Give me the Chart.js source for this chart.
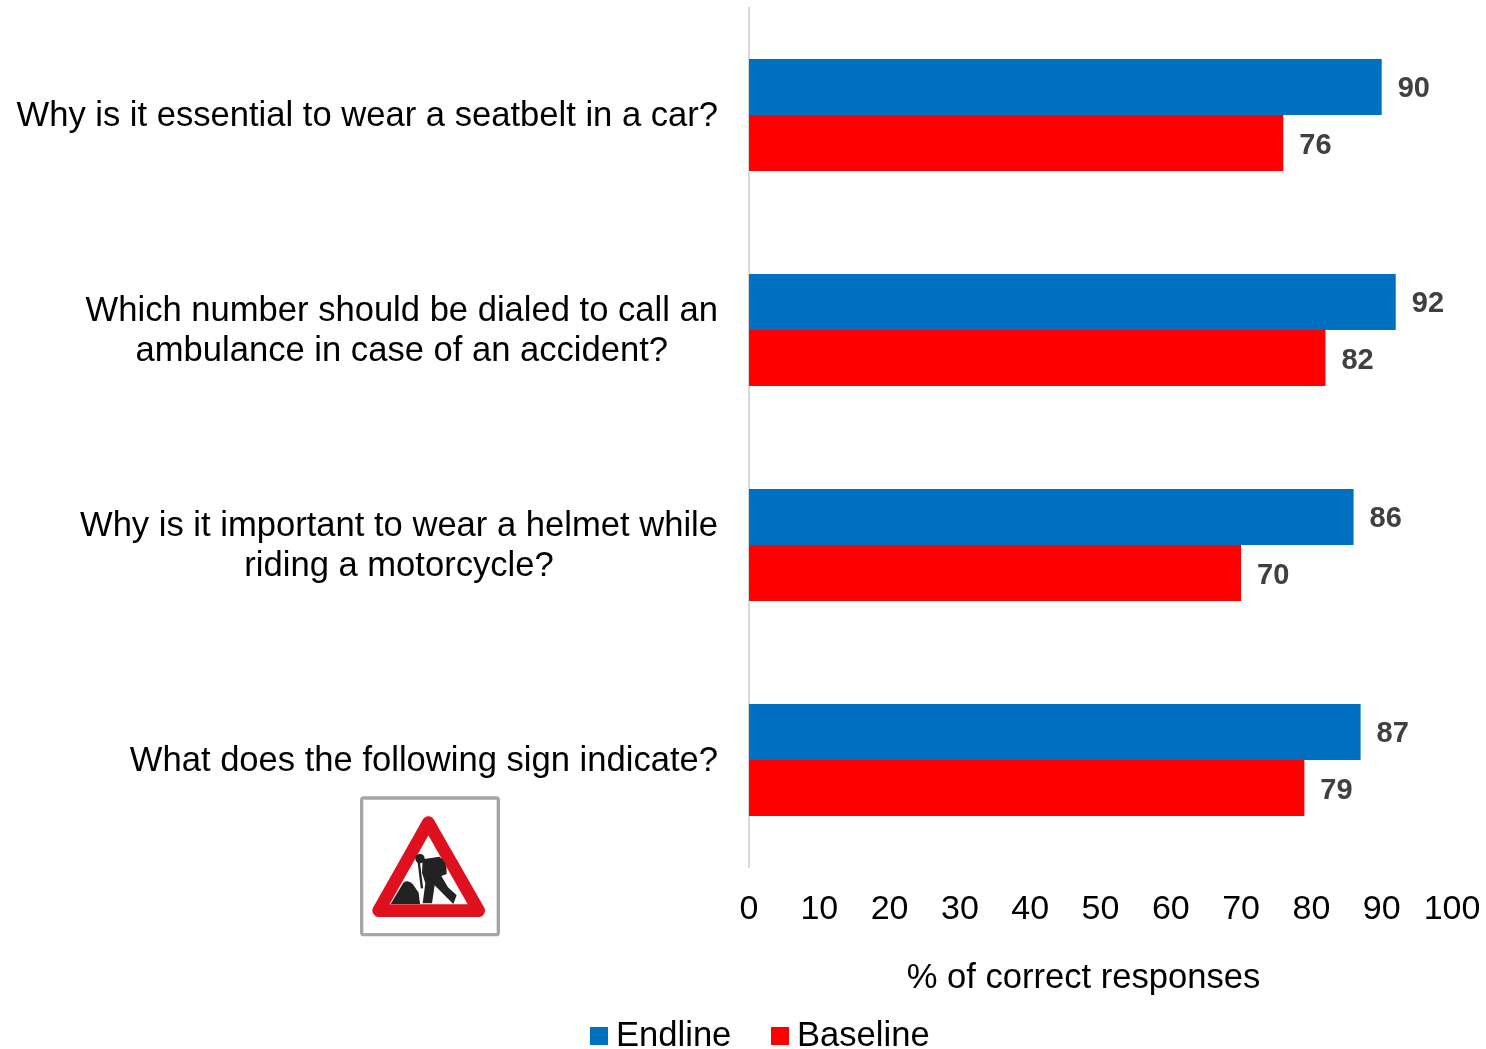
<!DOCTYPE html>
<html>

<head>
    <title>Correct responses</title>
    <meta http-equiv="Content-type" content="text/html; charset=utf-8">
    <script src="https://cdn.jsdelivr.net/npm/chart.js@4/dist/chart.umd.min.js"></script>
    <style>
        html, body { margin: 0; padding: 0; background: #fff; overflow: hidden; }
        #wrap { position: relative; width: 1486px; height: 1049px; }
        #chart { position: absolute; left: 0; top: 0; }
        #sign { position: absolute; left: 340px; top: 780px; filter: blur(0.7px); }
        .legend { position: absolute; top: 1014px; height: 40px; font: 34.6px "Liberation Sans", Arial, sans-serif; color: #000; }
        .legend i { position: absolute; left: 0; top: 13px; width: 18px; height: 18px; }
        .legend span { position: absolute; left: 26px; top: 0; line-height: 40px; white-space: nowrap; }
    </style>
</head>

<body>
    <div id="wrap">
        <canvas id="chart" width="1486" height="1049"></canvas>

        <!-- road works sign -->
        <svg id="sign" width="180" height="170" viewBox="0 0 540 510">
            <rect x="65" y="54" width="410" height="410" rx="6" fill="#fff" stroke="#a6a6a6" stroke-width="10" />
            <path d="M265 128 L116 392 L416 392 Z" fill="#fff" stroke="#e0111f" stroke-width="38" stroke-linejoin="round" />
            <path d="M152 372 L190 308 Q204 298 218 312 L236 338 L240 372 Z" fill="#222" />
            <circle cx="240" cy="236" r="14" fill="#222" />
            <path d="M248 238 L298 230 Q322 242 320 282 L304 288 L324 322 L350 346 L340 372 L312 344 L284 316 L276 370 L248 370 L256 310 L246 278 Z" fill="#222" />
            <path d="M236 245 L246 325" stroke="#222" stroke-width="7" fill="none" />
        </svg>

        <div class="legend" style="left:590px"><i style="background:#0070c0"></i><span>Endline</span></div>
        <div class="legend" style="left:771px"><i style="background:#ff0000"></i><span>Baseline</span></div>
    </div>

    <script>
        var categories = [
            ["Why is it essential to wear a seatbelt in a car?"],
            ["Which number should be dialed to call an", "ambulance in case of an accident?"],
            ["Why is it important to wear a helmet while", "riding a motorcycle?"],
            ["What does the following sign indicate?"]
        ];
        var endline = [90, 92, 86, 87];
        var baseline = [76, 82, 70, 79];
        var xAxisTitle = "% of correct responses";

        var fontName = '"Liberation Sans", Arial, sans-serif';

        // question labels, centred per block and right aligned to the axis
        var questionLabels = {
            id: 'questionLabels',
            afterDraw: function(chart) {
                var ctx = chart.ctx;
                var yScale = chart.scales.y;
                var rightEdge = 718;
                ctx.save();
                ctx.font = '34.6px ' + fontName;
                ctx.fillStyle = '#000';
                ctx.textBaseline = 'middle';
                ctx.textAlign = 'center';
                categories.forEach(function(lines, i) {
                    var widest = 0;
                    lines.forEach(function(l) { widest = Math.max(widest, ctx.measureText(l).width); });
                    var y = yScale.getPixelForValue(i) + 1;
                    lines.forEach(function(l, j) {
                        ctx.fillText(l, rightEdge - widest / 2, y + (j - (lines.length - 1) / 2) * 40);
                    });
                });
                // the axis title sits left of the plot centre, the built in one can't do that
                ctx.fillText(xAxisTitle, 1083.5, 978);
                ctx.restore();
            }
        };

        // value labels at the end of each bar
        var valueLabels = {
            id: 'valueLabels',
            afterDatasetsDraw: function(chart) {
                var ctx = chart.ctx;
                ctx.save();
                ctx.font = 'bold 29px ' + fontName;
                ctx.fillStyle = '#404040';
                ctx.textBaseline = 'middle';
                ctx.textAlign = 'left';
                chart.data.datasets.forEach(function(ds, d) {
                    chart.getDatasetMeta(d).data.forEach(function(bar, i) {
                        ctx.fillText(ds.data[i], bar.x + 16, bar.y + 2.5);
                    });
                });
                ctx.restore();
            }
        };

        new Chart(document.getElementById("chart"), {
            type: 'bar',
            data: {
                labels: categories.map(function(c) { return c.join(' '); }),
                datasets: [
                    { label: 'Endline', data: endline, backgroundColor: '#0070c0', categoryPercentage: 0.522, barPercentage: 1 },
                    { label: 'Baseline', data: baseline, backgroundColor: '#ff0000', categoryPercentage: 0.522, barPercentage: 1 }
                ]
            },
            options: {
                indexAxis: 'y',
                responsive: false,
                animation: false,
                layout: { padding: { top: 7.5, right: 0, bottom: 0, left: 0 } },
                plugins: {
                    legend: { display: false },
                    tooltip: { enabled: false }
                },
                scales: {
                    x: {
                        min: 0,
                        max: 100,
                        afterFit: function(scale) {
                            scale.height = 181.5;
                            scale.paddingRight = 34; // tick padding would otherwise squeeze the plot
                        },
                        grid: { display: false, drawTicks: false },
                        border: { display: false },
                        ticks: {
                            stepSize: 10,
                            maxRotation: 0,
                            autoSkip: false,
                            padding: 21.5,
                            color: '#000',
                            font: { size: 34, family: fontName }
                        }
                    },
                    y: {
                        afterFit: function(scale) { scale.width = 749; },
                        grid: { display: false, drawTicks: false },
                        border: { display: true, color: '#d9d9d9', width: 2 },
                        ticks: { display: false }
                    }
                }
            },
            plugins: [questionLabels, valueLabels]
        });
    </script>
</body>

</html>
